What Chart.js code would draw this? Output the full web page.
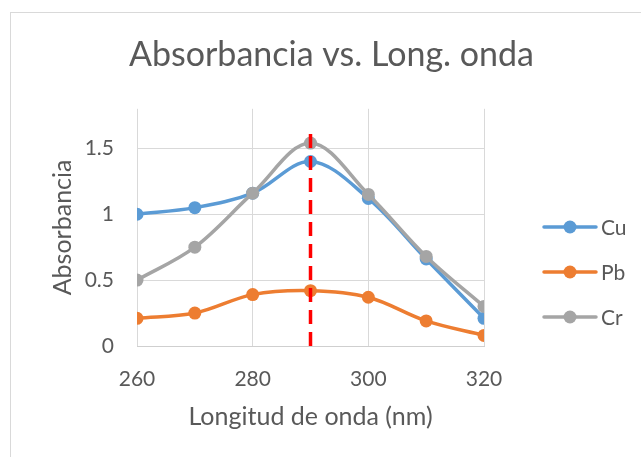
<!DOCTYPE html>
<html>
<head>
<meta charset="utf-8">
<script src="https://cdn.jsdelivr.net/npm/chart.js@4.4.1/dist/chart.umd.min.js"></script>
<style>
  html, body { margin: 0; padding: 0; background: #fff; }
  #wrap { position: relative; width: 641px; height: 457px; overflow: hidden; }
  #frame { position: absolute; left: 10px; top: 12px; width: 700px; height: 500px; border: 1px solid #d9d9d9; }
  canvas { position: absolute; left: 0; top: 0; }
</style>
</head>
<body>
<div id="wrap">
  <div id="frame"></div>
  <canvas id="chart" width="641" height="457"></canvas>
</div>
<script>
const wavelengths = [260, 270, 280, 290, 300, 310, 320];
const cuValues = [1.00, 1.05, 1.16, 1.40, 1.12, 0.66, 0.21];
const pbValues = [0.21, 0.25, 0.39, 0.42, 0.37, 0.19, 0.08];
const crValues = [0.50, 0.75, 1.16, 1.54, 1.15, 0.68, 0.30];
const peakX = [290, 290];
const peakY = [0, 1.62];
const xTicks = [260, 280, 300, 320];
const yTicks = [0, 0.5, 1, 1.5];

const textColor = '#595959';
const gridColor = '#d9d9d9';
const font = 'Lato';

function pts(xs, ys) {
  return xs.map((x, i) => ({ x: x, y: ys[i] }));
}

function series(label, values, color, order) {
  return {
    label: label,
    data: pts(wavelengths, values),
    borderColor: color,
    backgroundColor: color,
    pointBackgroundColor: color,
    pointBorderColor: color,
    pointRadius: 6.5,
    pointBorderWidth: 0,
    borderWidth: 3.5,
    tension: 0.35,
    showLine: true,
    order: order,
  };
}

// leyenda dibujada a mano: linea + marcador como en Excel
const legendPlugin = {
  id: 'excelLegend',
  afterDraw(chart) {
    const ctx = chart.ctx;
    const items = chart.data.datasets.filter(d => d.label !== 'peak');
    ctx.save();
    items.forEach((d, i) => {
      const y = 227 + i * 45;
      ctx.strokeStyle = d.borderColor;
      ctx.lineWidth = 3.5;
      ctx.lineCap = 'round';
      ctx.beginPath();
      ctx.moveTo(544, y);
      ctx.lineTo(596, y);
      ctx.stroke();
      ctx.fillStyle = d.borderColor;
      ctx.beginPath();
      ctx.arc(570, y, 6.5, 0, Math.PI * 2);
      ctx.fill();
      ctx.fillStyle = textColor;
      ctx.font = '21px ' + font;
      ctx.textBaseline = 'middle';
      ctx.textAlign = 'left';
      ctx.fillText(d.label, 601, y + 1);
    });
    ctx.restore();
  }
};

const ctx = document.getElementById('chart').getContext('2d');
new Chart(ctx, {
  type: 'scatter',
  data: {
    datasets: [
      {
        label: 'peak',
        data: pts(peakX, peakY),
        borderColor: '#ff0000',
        borderWidth: 3.5,
        borderDash: [14, 8],
        pointRadius: 0,
        showLine: true,
        order: 0,
      },
      series('Cu', cuValues, '#5b9bd5', 3),
      series('Pb', pbValues, '#ed7d31', 2),
      series('Cr', crValues, '#a5a5a5', 1),
    ],
  },
  options: {
    responsive: false,
    animation: false,
    events: [],
    layout: { padding: { left: 22, right: 0, top: 0, bottom: 0 } },
    plugins: {
      legend: { display: false },
      tooltip: { enabled: false },
      title: {
        display: true,
        text: 'Absorbancia vs. Long. onda',
        color: textColor,
        font: { family: font, size: 34, weight: 'normal' },
        padding: { top: 35, bottom: 33 },
      },
    },
    scales: {
      x: {
        type: 'linear',
        min: 260,
        max: 320,
        afterBuildTicks: s => { s.ticks = xTicks.map(v => ({ value: v })); },
        afterFit: s => { s.height = 111; },
        grid: { color: gridColor, drawTicks: false },
        border: { color: '#cfcfcf' },
        ticks: { color: textColor, font: { family: font, size: 21 }, padding: 21 },
        title: {
          display: true,
          text: 'Longitud de onda (nm)',
          color: textColor,
          font: { family: font, size: 25 },
          padding: { top: 0, bottom: 25 },
        },
      },
      y: {
        min: 0,
        max: 1.8,
        afterBuildTicks: s => { s.ticks = yTicks.map(v => ({ value: v })); },
        afterFit: s => { s.width = 115; },
        grid: { color: gridColor, drawTicks: false },
        border: { display: false },
        ticks: {
          color: textColor,
          font: { family: font, size: 21 },
          padding: 23,
          callback: v => String(v),
        },
        title: {
          display: true,
          text: 'Absorbancia',
          color: textColor,
          font: { family: font, size: 25 },
          padding: { top: 26, bottom: 0 },
        },
      },
      // eje vacio para reservar el hueco de la leyenda
      spacer: {
        type: 'linear',
        position: 'right',
        afterFit: s => { s.width = 157; },
        grid: { display: false, drawTicks: false },
        border: { display: false },
        ticks: { display: false },
      },
    },
  },
  plugins: [legendPlugin],
});
</script>
</body>
</html>
